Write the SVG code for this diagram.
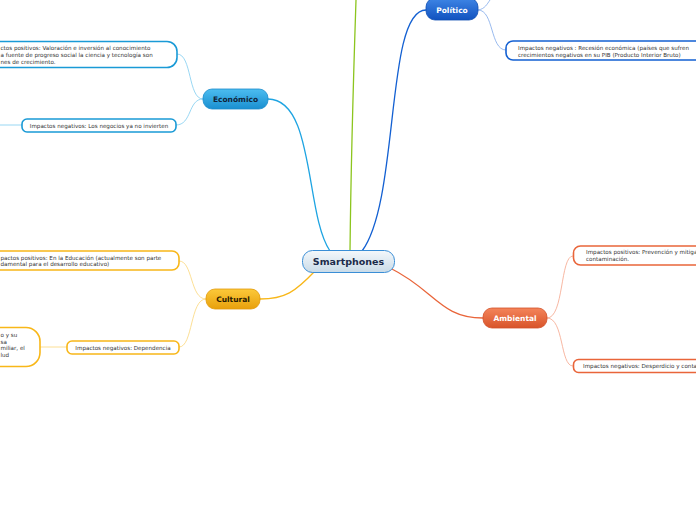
<svg xmlns="http://www.w3.org/2000/svg" width="696" height="520" viewBox="0 0 696 520">
<defs>
<linearGradient id="gCenter" x1="0" y1="0" x2="0" y2="1"><stop offset="0" stop-color="#f4f8fb"/><stop offset="1" stop-color="#c9dbe8"/></linearGradient>
<linearGradient id="gEco" x1="0" y1="0" x2="0" y2="1"><stop offset="0" stop-color="#4cbdf0"/><stop offset="1" stop-color="#1a8fd0"/></linearGradient>
<linearGradient id="gPol" x1="0" y1="0" x2="0" y2="1"><stop offset="0" stop-color="#3f86e6"/><stop offset="1" stop-color="#1152bf"/></linearGradient>
<linearGradient id="gCul" x1="0" y1="0" x2="0" y2="1"><stop offset="0" stop-color="#fcc93a"/><stop offset="1" stop-color="#e8a00c"/></linearGradient>
<linearGradient id="gAmb" x1="0" y1="0" x2="0" y2="1"><stop offset="0" stop-color="#f4845a"/><stop offset="1" stop-color="#d8542a"/></linearGradient>
<style>
text{font-family:Verdana,"DejaVu Sans",sans-serif}
.leaf{fill:#fff;stroke-width:1.6}
.lt{font-size:5.6px;fill:#333}
.mt{font-size:7.5px;font-weight:bold}
.c{fill:none}
</style>
</defs>
<g id="connectors" class="c">
<path d="M330,251 C305,215 315,99 268,99" stroke="#1ea4e2" stroke-width="1.3"/>
<path d="M203,99 C188,99 192,54 177,54" stroke="#7fcdf0" stroke-width="0.8"/>
<path d="M203,99 C188,99 192,125 176,125" stroke="#7fcdf0" stroke-width="0.8"/>
<path d="M22,125 L0,125" stroke="#7fcdf0" stroke-width="0.8"/>
<path d="M362,251 C400,200 385,10 426,10" stroke="#1360d2" stroke-width="1.3"/>
<path d="M478,10 C494,10 490,50 506,50" stroke="#7fa8ea" stroke-width="0.8"/>
<path d="M478,10 C485,9 487,4 490,0" stroke="#7fa8ea" stroke-width="0.8"/>
<path d="M350,251 C351,160 354,60 356,0" stroke="#8cc51e" stroke-width="1.3"/>
<path d="M315,271 C295,292 285,299 260,299" stroke="#f8b719" stroke-width="1.3"/>
<path d="M206,299 C190,299 193,261 179,261" stroke="#fbd77a" stroke-width="0.8"/>
<path d="M206,299 C190,299 193,347 179,347" stroke="#fbd77a" stroke-width="0.8"/>
<path d="M67,347 L40,347" stroke="#fbd77a" stroke-width="0.8"/>
<path d="M390,268 C435,290 440,318 483,318" stroke="#e9653a" stroke-width="1.3"/>
<path d="M547,318 C564,318 560,256 573,256" stroke="#f5a58a" stroke-width="0.8"/>
<path d="M547,318 C564,318 560,366 573,366" stroke="#f5a58a" stroke-width="0.8"/>
</g>
<g id="smartphones">
<rect x="302.5" y="250.5" width="92" height="22" rx="10" fill="url(#gCenter)" stroke="#3a8ed6" stroke-width="1"/>
<text x="348.5" y="265" text-anchor="middle" font-size="9.5" font-weight="bold" fill="#1b2b4a">Smartphones</text>
</g>
<g id="economico">
<rect x="203" y="89" width="65" height="20" rx="9" fill="url(#gEco)" stroke="#1a8ccc" stroke-width="0.8"/>
<text x="235.5" y="102" text-anchor="middle" class="mt" fill="#10243a">Económico</text>
</g>
<g id="politico">
<rect x="426" y="-2" width="52" height="22" rx="9" fill="url(#gPol)" stroke="#0f4fb3" stroke-width="0.8"/>
<text x="452" y="13" text-anchor="middle" class="mt" fill="#fff">Político</text>
</g>
<g id="cultural">
<rect x="206" y="289" width="54" height="20" rx="9" fill="url(#gCul)" stroke="#e29a0a" stroke-width="0.8"/>
<text x="233" y="302" text-anchor="middle" class="mt" fill="#2a1a00">Cultural</text>
</g>
<g id="ambiental">
<rect x="483" y="308" width="64" height="20" rx="9" fill="url(#gAmb)" stroke="#d2502a" stroke-width="0.8"/>
<text x="515" y="321" text-anchor="middle" class="mt" fill="#fff">Ambiental</text>
</g>
<g id="eco-pos">
<rect x="-20" y="41.5" width="197" height="26" rx="10" class="leaf" stroke="#1a9ad6"/>
<text class="lt" x="0.5" y="49.5">ctos positivos: Valoración e inversión al conocimiento</text>
<text class="lt" x="0.5" y="56.5">a fuente de progreso social la ciencia y tecnología son</text>
<text class="lt" x="0.5" y="63.5">nes de crecimiento.</text>
</g>
<g id="eco-neg">
<rect x="22" y="119" width="154" height="13" rx="5" class="leaf" stroke="#1a9ad6"/>
<text class="lt" x="99" y="127.5" text-anchor="middle">Impactos negativos: Los negocios ya no invierten</text>
</g>
<g id="pol-neg">
<rect x="506" y="41" width="200" height="19" rx="7" class="leaf" stroke="#1360d2"/>
<text class="lt" x="518" y="49.5">Impactos negativos : Recesión económica (países que sufren</text>
<text class="lt" x="518" y="56.5">crecimientos negativos en su PIB (Producto Interior Bruto)</text>
</g>
<g id="cul-pos">
<rect x="-20" y="251" width="199" height="19" rx="7" class="leaf" stroke="#f8b719"/>
<text class="lt" x="0.5" y="259.5">pactos positivos: En la Educación (actualmente son parte</text>
<text class="lt" x="0.5" y="266">damental para el desarrollo educativo)</text>
</g>
<g id="cul-neg">
<rect x="67" y="341" width="112" height="13" rx="5" class="leaf" stroke="#f8b719"/>
<text class="lt" x="123" y="349.5" text-anchor="middle">Impactos negativos: Dependencia</text>
</g>
<g id="cul-neg-child">
<rect x="-40" y="327.5" width="80" height="39" rx="14" class="leaf" stroke="#f8b719"/>
<text class="lt" x="0.5" y="337">o y su</text>
<text class="lt" x="0.5" y="343.5">sa</text>
<text class="lt" x="0.5" y="350">miliar, el</text>
<text class="lt" x="0.5" y="356.5">lud</text>
</g>
<g id="amb-pos">
<rect x="573.5" y="246" width="140" height="19" rx="7" class="leaf" stroke="#e9653a"/>
<text class="lt" x="586" y="254">Impactos positivos: Prevención y mitiga</text>
<text class="lt" x="586" y="261">contaminación.</text>
</g>
<g id="amb-neg">
<rect x="573.5" y="359.5" width="140" height="13" rx="5" class="leaf" stroke="#e9653a"/>
<text class="lt" x="583" y="368">Impactos negativos: Desperdicio y conta</text>
</g>
</svg>
